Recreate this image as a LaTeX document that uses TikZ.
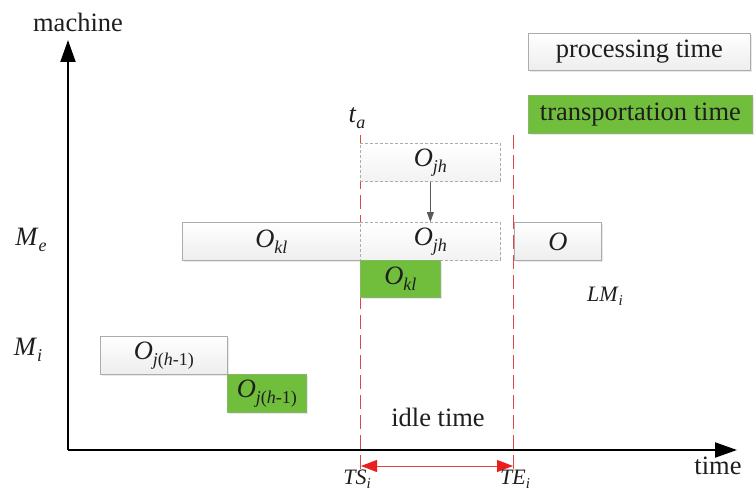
\documentclass[tikz,border=0pt]{standalone}
\usepackage{fontspec}
\setmainfont{Liberation Serif}
\usetikzlibrary{arrows.meta,shadows}
\definecolor{grn}{RGB}{112,190,60}
\definecolor{grnd}{RGB}{80,150,40}
\definecolor{rl}{RGB}{225,70,70}
\definecolor{ra}{RGB}{235,30,30}
\definecolor{txt}{RGB}{30,30,30}
\newcommand{\ssub}[1]{\raisebox{-0.5ex}{\fontsize{18}{18}\selectfont #1}}
\newcommand{\bigtxt}{\fontsize{26.5}{26.5}\selectfont}
\newcommand{\midtxt}{\fontsize{22}{22}\selectfont}
\newcommand{\smsub}[1]{\raisebox{-0.4ex}{\fontsize{15}{15}\selectfont #1}}
\tikzset{
  every node/.style={text=txt},
  procbox/.style={draw=gray!65, top color=white, bottom color=gray!14, line width=0.8pt, inner sep=0pt,
    anchor=north west, drop shadow={shadow xshift=1.2pt, shadow yshift=-1.2pt, opacity=0.18}},
  dashbox/.style={draw=gray!65, dashed, dash pattern=on 3pt off 2pt, top color=white, bottom color=gray!10, line width=0.8pt, inner sep=0pt, anchor=north west},
  transbox/.style={draw=grnd!70, fill=grn, line width=0.8pt, inner sep=0pt, anchor=north west,
    drop shadow={shadow xshift=1.2pt, shadow yshift=-1.2pt, opacity=0.18}},
  redline/.style={draw=rl, line width=1.1pt, dash pattern=on 14pt off 6pt},
  axis/.style={line width=2pt, black, -{Triangle[length=22pt,width=15pt]}},
}
\begin{document}
\begin{tikzpicture}[x=1pt,y=-1pt]
\useasboundingbox (0,0) rectangle (755,492);
% axes
\coordinate (orig) at (68,450);
\coordinate (ytip) at (68,40);
\coordinate (xtip) at (737,450);
\draw[axis] (orig) -- (ytip);
\draw[axis] (orig) -- (xtip);
\node (machine) at (78,22) {\bigtxt machine};
\node (time) at (718,466) {\bigtxt time};
% legend
\node[procbox, minimum width=222pt, minimum height=37pt] (legp) at (528,33) {\bigtxt processing time};
\node[transbox, minimum width=224pt, minimum height=38pt] (legt) at (528,95) {\bigtxt transportation time};
% machine labels
\node (Me) at (31,240) {\bigtxt\textit{M}\ssub{\textit{e}}};
\node (Mi) at (28,350) {\bigtxt\textit{M}\ssub{\textit{i}}};
% red dashed lines
\coordinate (lt) at (360.5,135);
\coordinate (lb) at (360.5,470);
\coordinate (rt) at (513.5,135);
\coordinate (rb) at (513.5,470);
\draw[redline] (lt) -- (lb);
\draw[redline] (rt) -- (rb);
\node (ta) at (357,118) {\bigtxt\textit{t}\ssub{\textit{a}}};
% boxes on Me
\node[procbox, minimum width=178pt, minimum height=38pt] (okl) at (182,222) {\bigtxt\textit{O}\ssub{\textit{kl}}};
\node[dashbox, minimum width=140pt, minimum height=38pt] (ojh2) at (360,222) {\bigtxt\textit{O}\ssub{\textit{jh}}};
\node[procbox, minimum width=87pt, minimum height=38pt] (oo) at (514,222) {\bigtxt\textit{O}};
\node[dashbox, minimum width=140pt, minimum height=38pt] (ojh1) at (360,143) {\bigtxt\textit{O}\ssub{\textit{jh}}};
\draw[gray!70!black, line width=0.8pt, -{Triangle[length=10pt,width=7pt]}] (ojh1.south) -- (ojh2.north);
\node[transbox, minimum width=80pt, minimum height=37pt] (okl2) at (360,260) {\bigtxt\textit{O}\ssub{\textit{kl}}};
\node (LMi) at (605,296) {\midtxt\textit{LM}\smsub{\textit{i}}};
% boxes on Mi
\node[procbox, minimum width=127pt, minimum height=38pt] (ojh3) at (100,336) {\bigtxt\textit{O}\ssub{\textit{j}(\textit{h}-1)}};
\node[transbox, minimum width=79pt, minimum height=38pt] (ojh4) at (227,374) {\bigtxt\textit{O}\ssub{\textit{j}(\textit{h}-1)}};
% idle time
\node (idle) at (438,417) {\bigtxt idle time};
\coordinate (tsA) at (361,466);
\coordinate (teA) at (513,466);
\draw[rl, line width=1pt, {Triangle[length=16pt,width=12pt,fill=ra,color=ra]}-{Triangle[length=16pt,width=12pt,fill=ra,color=ra]}] (tsA) -- (teA);
\node (TS) at (357,479) {\midtxt\textit{TS}\smsub{\textit{i}}};
\node (TE) at (515,479) {\midtxt\textit{TE}\smsub{\textit{i}}};
\end{tikzpicture}
\end{document}
